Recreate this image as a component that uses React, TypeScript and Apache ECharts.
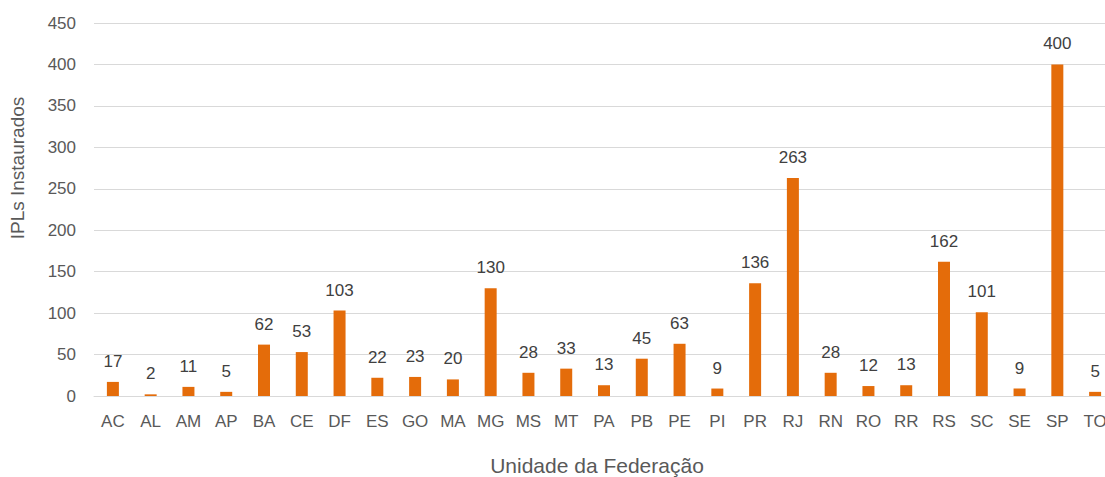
import React, { useEffect, useRef } from "react";
import * as echarts from "echarts";

const categories = ["AC","AL","AM","AP","BA","CE","DF","ES","GO","MA","MG","MS","MT","PA","PB","PE","PI","PR","RJ","RN","RO","RR","RS","SC","SE","SP","TO"];
const values = [17,2,11,5,62,53,103,22,23,20,130,28,33,13,45,63,9,136,263,28,12,13,162,101,9,400,5];
const yTicks = { min: 0, max: 450, interval: 50 };
const xTitle = "Unidade da Federação";
const yTitle = "IPLs Instaurados";

export default function App() {
  const ref = useRef<HTMLDivElement>(null);
  useEffect(() => {
    const chart = echarts.init(ref.current!, null, { renderer: "svg" });
    const font = "'Liberation Sans', Arial, sans-serif";
    chart.setOption({
      animation: false,
      grid: { left: 94, top: 23, right: 16, bottom: 81, containLabel: false },
      graphic: [
        {
          type: "text",
          x: 597,
          y: 465,
          style: { text: xTitle, fill: "#595959", fontSize: 21, fontFamily: font, align: "center", verticalAlign: "middle" },
        },
        {
          type: "text",
          x: 17,
          y: 168,
          rotation: Math.PI / 2,
          style: { text: yTitle, fill: "#595959", fontSize: 19, fontFamily: font, align: "center", verticalAlign: "middle" },
        },
      ],
      xAxis: {
        type: "category",
        data: categories,
        axisLine: { show: true, lineStyle: { color: "#d9d9d9", width: 1 } },
        axisTick: { show: false },
        axisLabel: { color: "#595959", fontSize: 17, fontFamily: font, margin: 17, interval: 0 },
      },
      yAxis: {
        type: "value",
        min: yTicks.min,
        max: yTicks.max,
        interval: yTicks.interval,
        axisLine: { show: false },
        axisTick: { show: false },
        axisLabel: { color: "#595959", fontSize: 17, fontFamily: font, margin: 18 },
        splitLine: { lineStyle: { color: "#d9d9d9", width: 1 } },
      },
      series: [
        {
          type: "bar",
          data: values,
          barWidth: 12,
          itemStyle: { color: "#E46C0A" },
          label: {
            show: true,
            position: "top",
            distance: 12,
            color: "#404040",
            fontSize: 17,
            fontFamily: font,
          },
        },
      ],
    });
    return () => chart.dispose();
  }, []);
  return (
    <div style={{ position: "absolute", left: 0, top: 0, width: 1105, height: 477, overflow: "hidden", background: "#fff" }}>
      <div ref={ref} style={{ width: 1130, height: 477 }} />
    </div>
  );
}
